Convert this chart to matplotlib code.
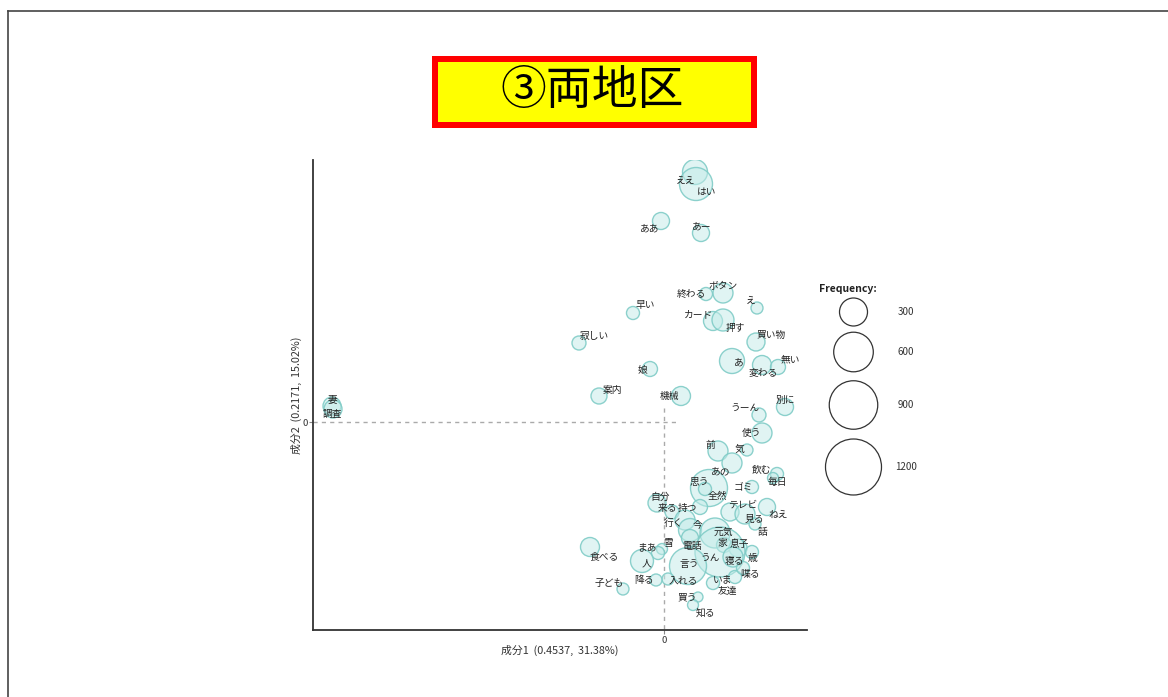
import matplotlib
matplotlib.use("Agg")
import matplotlib.pyplot as plt
from matplotlib.patches import Rectangle
from matplotlib.lines import Line2D
import numpy as np

plt.rcParams["font.family"] = ["Noto Sans CJK JP", "DejaVu Sans"]

# Correspondence analysis: word scores on component 1 / component 2 and frequency
words = ["ええ", "はい", "ああ", "あー", "終わる", "ボタン", "え", "早い", "カード", "押す",
         "買い物", "寂しい", "あ", "変わる", "無い", "娘", "案内", "機械", "うーん", "別に",
         "使う", "前", "気", "妻", "調査", "あの", "飲む", "毎日", "思う", "全然",
         "ゴミ", "自分", "来る", "持つ", "テレビ", "見る", "話", "ねえ", "行く", "今",
         "元気", "家", "息子", "うん", "寝る", "歳", "電話", "雪", "まあ", "食べる",
         "人", "言う", "入れる", "降る", "子ども", "買う", "知る", "友達", "いま", "喋る"]
comp1 = [0.31, 0.32, -0.03, 0.37, 0.42, 0.59, 0.93, -0.31, 0.49, 0.59,
         0.92, -0.85, 0.68, 0.98, 1.14, -0.14, -0.65, 0.17, 0.95, 1.21,
         0.98, 0.54, 0.83, -3.32, -3.31, 0.68, 1.13, 1.09, 0.45, 0.41,
         0.88, -0.07, 0.08, 0.36, 0.66, 0.81, 0.91, 1.03, 0.21, 0.26,
         0.51, 0.60, 0.74, 0.56, 0.69, 0.88, 0.26, -0.02, -0.06, -0.74,
         -0.22, 0.24, 0.04, -0.08, -0.41, 0.34, 0.29, 0.49, 0.71, 0.79]
comp2 = [2.50, 2.38, 2.01, 1.89, 1.28, 1.29, 1.14, 1.09, 1.01, 1.02,
         0.80, 0.79, 0.61, 0.57, 0.55, 0.53, 0.26, 0.26, 0.07, 0.15,
         -0.11, -0.29, -0.28, 0.16, 0.13, -0.41, -0.52, -0.56, -0.66, -0.67,
         -0.65, -0.81, -0.90, -0.85, -0.90, -0.92, -1.02, -0.85, -0.98, -1.08,
         -1.11, -1.23, -1.26, -1.30, -1.35, -1.30, -1.16, -1.27, -1.31, -1.25,
         -1.39, -1.44, -1.57, -1.58, -1.67, -1.75, -1.83, -1.61, -1.55, -1.46]
freq = [239, 417, 111, 111, 65, 153, 55, 65, 138, 185,
        124, 75, 239, 138, 86, 86, 98, 138, 75, 111,
        153, 153, 55, 124, 124, 153, 65, 46, 524, 65,
        65, 124, 75, 86, 124, 153, 55, 111, 153, 202,
        344, 86, 124, 957, 153, 65, 111, 46, 65, 138,
        202, 524, 55, 55, 55, 38, 46, 65, 65, 65]

legend_freq = [300, 600, 900, 1200]

# label placement (pixel offsets from the bubble centre, y downwards)
label_offset = {
    "ええ": (-9, 9), "はい": (11, 8), "ああ": (-11, 8), "あー": (1, -6),
    "終わる": (-15, 0), "ボタン": (0, -8), "え": (-6, -7), "早い": (12, -8),
    "カード": (-14, -7), "押す": (12, 8), "買い物": (15, -7), "寂しい": (15, -7),
    "あ": (7, 1), "変わる": (1, 8), "無い": (12, -8), "娘": (-8, 0),
    "案内": (13, -6), "機械": (-12, 0), "うーん": (-14, -7), "別に": (0, -7),
    "使う": (-10, 0), "前": (-8, -6), "気": (-8, -1), "妻": (0, -6),
    "調査": (-1, 5), "あの": (-11, 8), "飲む": (-15, -4), "毎日": (4, 4),
    "思う": (-10, -6), "全然": (12, 7), "ゴミ": (-9, 0), "自分": (3, -6),
    "来る": (-5, -4), "持つ": (-13, 1), "テレビ": (13, -7), "見る": (9, 5),
    "話": (8, 8), "ねえ": (11, 8), "行く": (-11, 3), "今": (8, -5),
    "元気": (8, -1), "家": (-2, -2), "息子": (1, -4), "うん": (-10, 6),
    "寝る": (1, 4), "歳": (1, 6), "電話": (2, 8), "雪": (6, -6),
    "まあ": (-11, -6), "食べる": (14, 9), "人": (4, 2), "言う": (1, -2),
    "入れる": (15, 1), "降る": (-12, 0), "子ども": (-14, -6), "買う": (-11, 0),
    "知る": (12, 8), "友達": (14, 8), "いま": (-12, 2), "喋る": (7, 6),
}

DPI = 100
PX = 72.0 / DPI  # points per pixel


def bubble_area(f):
    # marker area in pt^2, circle area proportional to frequency
    d_px = 28.0 * np.sqrt(np.asarray(f, dtype=float) / 300.0)
    return (d_px * PX) ** 2


fig = plt.figure(figsize=(11.68, 6.97), dpi=DPI)
W, H = 1168.0, 697.0

# outer frame
fig.add_artist(Line2D([8 / W, 8 / W], [0, 1 - 11 / H], color="#444444", lw=1.2))
fig.add_artist(Line2D([8 / W, 1.0], [1 - 11 / H, 1 - 11 / H], color="#444444", lw=1.2))

# title box
fig.add_artist(Rectangle((435 / W, 1 - 125 / H), 319 / W, 66 / H,
                         facecolor="#ffff00", edgecolor="#ff0000",
                         lw=6 * PX, transform=fig.transFigure))
fig.text(592 / W, 1 - 91 / H, "③両地区", fontsize=33, ha="center", va="center",
         color="black")

ax = fig.add_axes([313 / W, 1 - 630 / H, 494 / W, 470 / H])
ax.set_xlim(-3.51, 1.43)
ax.set_ylim(-2.08, 2.62)

ax.plot([-3.51, 0.14], [0, 0], ls=(0, (3, 3)), color="#aaaaaa", lw=1, zorder=1)
ax.plot([0, 0], [0.14, -2.08], ls=(0, (3, 3)), color="#aaaaaa", lw=1, zorder=1)

ax.scatter(comp1, comp2, s=bubble_area(freq),
           facecolor=(0.76, 0.92, 0.91, 0.5), edgecolor=(0.50, 0.80, 0.78, 0.9),
           linewidths=1.0, zorder=2)

for w, x, y in zip(words, comp1, comp2):
    dx, dy = label_offset[w]
    ax.annotate(w, (x, y), xytext=(dx * PX, -dy * PX), textcoords="offset points",
                ha="center", va="center", fontsize=7, color="#222222", zorder=3)

for side in ("top", "right"):
    ax.spines[side].set_visible(False)
for side in ("left", "bottom"):
    ax.spines[side].set_color("#333333")
    ax.spines[side].set_linewidth(1.3)
ax.set_xticks([0])
ax.set_yticks([0])
ax.tick_params(length=3, width=0.8, color="#888888", labelsize=6.8,
               labelcolor="#333333", pad=1)
ax.set_xlabel("成分1  (0.4537,  31.38%)", fontsize=7.8, color="#333333", labelpad=0)
ax.set_ylabel("成分2  (0.2171,  15.02%)", fontsize=7.8, color="#333333", labelpad=0)

# frequency legend
lax = fig.add_axes([800 / W, 1 - 510 / H, 140 / W, 240 / H])
lax.set_xlim(800, 940)
lax.set_ylim(510, 270)
lax.axis("off")
legend_y = [312, 352, 405, 467]
lax.scatter([853.5] * 4, legend_y, s=bubble_area(legend_freq),
            facecolor="none", edgecolor="#333333", linewidths=0.9)
for f, y in zip(legend_freq, legend_y):
    lax.text(906, y, str(f), fontsize=7, ha="center", va="center", color="#333333")
lax.text(848, 289, "Frequency:", fontsize=7.5, fontweight="bold", ha="center",
         va="center", color="#222222")

fig.savefig("out.png", dpi=DPI)
